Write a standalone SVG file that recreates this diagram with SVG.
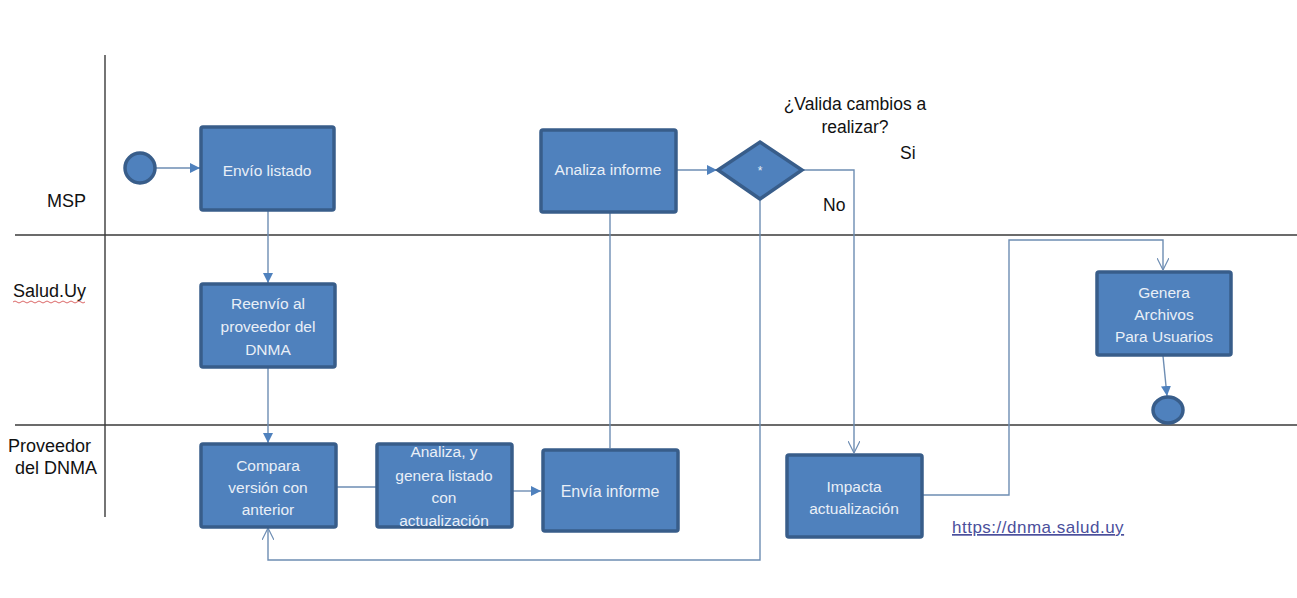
<svg xmlns="http://www.w3.org/2000/svg" width="1297" height="598" viewBox="0 0 1297 598">
<style>
.lane{stroke:#3a3a3a;stroke-width:1.4;fill:none}
.lbl{font-family:"Liberation Sans",Arial,sans-serif;font-size:18px;fill:#111}
.box{fill:#4f81bd;stroke:#385d8a;stroke-width:3.5}
.bt{font-family:"Liberation Sans",Arial,sans-serif;font-size:15.5px;fill:#e9eff7;text-anchor:middle}
.con{stroke:#6d8db3;stroke-width:1.4;fill:none}
.txt{font-family:"Liberation Sans",Arial,sans-serif;font-size:17.5px;fill:#111}
</style>
<defs>
<marker id="tri" viewBox="0 0 10 10" refX="10" refY="5" markerWidth="10" markerHeight="10" markerUnits="userSpaceOnUse" orient="auto">
<path d="M0,0 L10,5 L0,10 z" fill="#4f81bd"/>
</marker>
<marker id="open" viewBox="0 0 12 12" refX="12" refY="6" markerWidth="12" markerHeight="12" markerUnits="userSpaceOnUse" orient="auto">
<path d="M0,0 L12,6 L0,12" fill="none" stroke="#6d8db3" stroke-width="1.2"/>
</marker>
</defs>
<rect width="1297" height="598" fill="#fff"/>
<g id="lanes">
<line class="lane" x1="105" y1="55" x2="105" y2="517"/>
<line class="lane" x1="15" y1="235" x2="1297" y2="235"/>
<line class="lane" x1="15" y1="425" x2="1297" y2="425"/>
<text class="lbl" x="47" y="207">MSP</text>
<text class="lbl" x="13" y="297">Salud.Uy</text>
<path d="M13,302 q2,-2 4,0 t4,0 t4,0 t4,0 t4,0 t4,0 t4,0 t4,0 t4,0 t4,0 t4,0 t4,0 t4,0 t4,0 t4,0 t4,0 t4,0 t4,0" stroke="#d04040" stroke-width="0.8" fill="none"/>
<text class="lbl" x="8" y="452">Proveedor</text>
<text class="lbl" x="15" y="474">del DNMA</text>
</g>
<g id="connectors">
<line class="con" x1="156" y1="168" x2="200" y2="168" marker-end="url(#tri)"/>
<line class="con" x1="268" y1="211" x2="268" y2="283" marker-end="url(#tri)"/>
<line class="con" x1="268" y1="368" x2="268" y2="443" marker-end="url(#tri)"/>
<line class="con" x1="337" y1="487" x2="376" y2="487"/>
<line class="con" x1="513" y1="491" x2="541" y2="491" marker-end="url(#tri)"/>
<line class="con" x1="610" y1="448" x2="610" y2="213"/>
<line class="con" x1="677" y1="170" x2="717" y2="170" marker-end="url(#tri)"/>
<polyline class="con" points="803,170 854,170 854,453" marker-end="url(#open)"/>
<polyline class="con" points="760,201 760,560 268,560 268,528" marker-end="url(#open)"/>
<polyline class="con" points="923,495 1009,495 1009,240 1163,240 1163,270" marker-end="url(#open)"/>
<line class="con" x1="1163" y1="356" x2="1167" y2="396" marker-end="url(#tri)"/>
</g>
<g id="start"><circle cx="140" cy="168" r="15" fill="#4f81bd" stroke="#385d8a" stroke-width="3.5"/></g>
<g id="envio-listado">
<rect class="box" x="201" y="127" width="133" height="83" rx="2"/>
<text class="bt" x="267" y="176">Envío listado</text>
</g>
<g id="reenvio">
<rect class="box" x="201" y="284" width="134" height="83" rx="2"/>
<text class="bt" x="268" y="309">Reenvío al</text>
<text class="bt" x="268" y="332">proveedor del</text>
<text class="bt" x="268" y="355">DNMA</text>
</g>
<g id="compara">
<rect class="box" x="201" y="444" width="135" height="83" rx="2"/>
<text class="bt" x="268" y="471">Compara</text>
<text class="bt" x="268" y="493">versión con</text>
<text class="bt" x="268" y="515">anterior</text>
</g>
<g id="analiza-genera">
<rect class="box" x="377" y="444" width="135" height="83" rx="2"/>
<text class="bt" x="444" y="457">Analiza, y</text>
<text class="bt" x="444" y="481">genera listado</text>
<text class="bt" x="444" y="503">con</text>
<text class="bt" x="444" y="526">actualización</text>
</g>
<g id="envia-informe">
<rect class="box" x="543" y="450" width="135" height="81" rx="2"/>
<text class="bt" x="610" y="497" style="font-size:16px">Envía informe</text>
</g>
<g id="analiza-informe">
<rect class="box" x="541" y="130" width="135" height="82" rx="2"/>
<text class="bt" x="608" y="175">Analiza informe</text>
</g>
<g id="decision">
<polygon points="718,170 760,142 802,170 760,199" fill="#4f81bd" stroke="#385d8a" stroke-width="3.5"/>
<text class="bt" x="760" y="175" style="font-size:12px">*</text>
<text class="txt" x="855" y="110" text-anchor="middle">¿Valida cambios a</text>
<text class="txt" x="855" y="133" text-anchor="middle">realizar?</text>
<text class="txt" x="900" y="159">Si</text>
<text class="txt" x="823" y="211">No</text>
</g>
<g id="impacta">
<rect class="box" x="787" y="455" width="135" height="82" rx="2"/>
<text class="bt" x="854" y="492">Impacta</text>
<text class="bt" x="854" y="514">actualización</text>
</g>
<g id="genera">
<rect class="box" x="1097" y="272" width="134" height="83" rx="2"/>
<text class="bt" x="1164" y="298">Genera</text>
<text class="bt" x="1164" y="320">Archivos</text>
<text class="bt" x="1164" y="342">Para Usuarios</text>
</g>
<g id="end"><ellipse cx="1168" cy="410" rx="15" ry="13" fill="#4f81bd" stroke="#385d8a" stroke-width="3.5"/></g>
<g id="link">
<text x="952" y="533" style="font-family:'Liberation Sans',Arial,sans-serif;font-size:17px;letter-spacing:0.5px;fill:#4b4f9c;text-decoration:underline">https://dnma.salud.uy</text>
</g>
</svg>
